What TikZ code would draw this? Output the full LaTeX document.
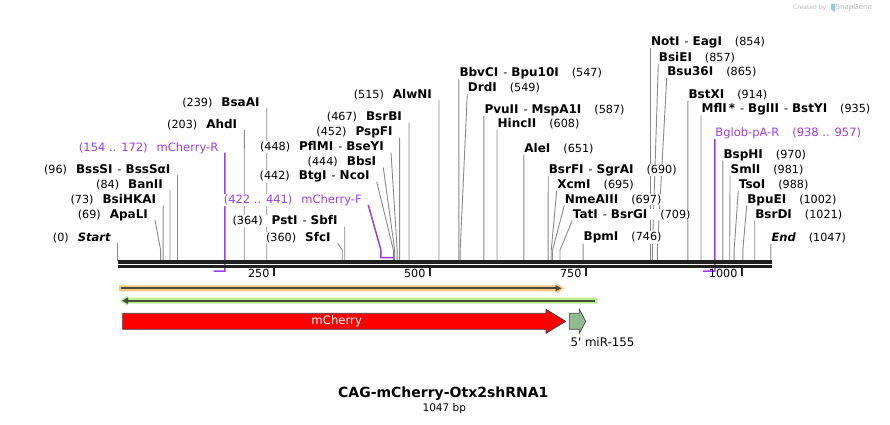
\documentclass[tikz,border=0pt]{standalone}
\usepackage{fontspec}
\setmainfont{DejaVu Sans}
\usetikzlibrary{arrows.meta}
\pgfdeclarelayer{bg}
\pgfdeclarelayer{back}
\pgfsetlayers{back,bg,main}
\definecolor{siteg}{HTML}{8A8A8A}
\definecolor{primer}{HTML}{A23BF0}
\definecolor{bandorange}{HTML}{F9C87F}
\definecolor{bandgreen}{HTML}{B5F08A}
\definecolor{banddark}{HTML}{4A4A42}
\definecolor{mirgreen}{HTML}{8FBC8F}
\definecolor{logogray}{HTML}{B8B8B8}
\definecolor{logoblue}{HTML}{8CCFEA}
\definecolor{barblack}{HTML}{202020}
\newcommand{\bpx}[1]{117.6+0.624*#1}
\newcommand{\EnzB}[1]{{\fontsize{12}{13}\selectfont\bfseries #1}}
\newcommand{\EndB}[1]{{\fontsize{11.5}{13}\selectfont\bfseries\itshape #1}}
\newcommand{\SiteGap}{\hspace{13pt}}
\newcommand{\LGap}{\hspace{9pt}}
\newcommand{\SiteSep}{\hspace{5pt}-\hspace{4pt}}
\newcommand{\Lsite}[5]{%
  \node[lab,anchor=base east] (#1) at (#2-6.5,#3+4) {#5};
  \coordinate (#1k) at ({\bpx{#4}},250);
  \coordinate (#1b) at ({\bpx{#4}},260.5);
  \begin{pgfonlayer}{bg}
    \draw[siteline] ([xshift=6.5pt,yshift=-2pt]#1.base east) -- (#1k) -- (#1b);
  \end{pgfonlayer}}
\newcommand{\Rsite}[5]{%
  \node[lab,anchor=base west] (#1) at (#2,#3+4) {#5};
  \coordinate (#1k) at ({\bpx{#4}},250);
  \coordinate (#1b) at ({\bpx{#4}},260.5);
  \begin{pgfonlayer}{bg}
    \draw[siteline] ([yshift=-2.5pt]#1.base west) -- (#1k) -- (#1b);
  \end{pgfonlayer}}
\tikzset{
  lab/.style={font=\fontsize{11.2}{13}\selectfont, fill=white, inner sep=0.6pt, outer sep=0pt, text=black},
  plab/.style={lab, font=\fontsize{11.5}{13}\selectfont, text=primer},
  siteline/.style={draw=siteg, line width=0.9pt},
  primerline/.style={draw=primer, line width=1.5pt},
  barline/.style={draw=barblack, line width=3.1pt},
  tickline/.style={draw=barblack, line width=2pt},
  ticklab/.style={font=\fontsize{11.2}{13}\selectfont, inner sep=0pt, text=black},
}
\begin{document}
\begin{tikzpicture}[x=1pt,y=-1pt]
\useasboundingbox (0,0) rectangle (890,424);
\begin{pgfonlayer}{back}
\fill[white] (0,0) rectangle (890,424);
\end{pgfonlayer}

% logo
\node[font=\fontsize{6}{7}\selectfont, text=logogray, anchor=west, inner sep=0pt] (logoA) at (793,7.5) {Created by};
\fill[logoblue] (831,3.5) -- (835,3.5) -- (835,12) -- (831,9.5) -- cycle;
\node[font=\fontsize{7}{8}\selectfont, text=logogray, anchor=west, inner sep=0pt] (logoB) at (835.5,7.5) {SnapGene};

% left group
\Lsite{sStart}{117.6}{237}{0}{(0)\LGap\EndB{Start}}
\Lsite{sApaLI}{155}{214}{69}{(69)\LGap\EnzB{ApaLI}}
\Lsite{sBsiHKAI}{163.2}{199}{73}{(73)\LGap\EnzB{BsiHKAI}}
\Lsite{sBanII}{170}{184}{84}{(84)\LGap\EnzB{BanII}}
\Lsite{sBssSI}{177.5}{169}{96}{(96)\LGap\EnzB{BssSI}\SiteSep\EnzB{BssSαI}}
\Lsite{sAhdI}{244.3}{124}{203}{(203)\LGap\EnzB{AhdI}}
\Lsite{sBsaAI}{266.7}{102}{239}{(239)\LGap\EnzB{BsaAI}}
\Lsite{sSfcI}{337.7}{237.3}{360}{(360)\LGap\EnzB{SfcI}}
\Lsite{sPstI}{344.7}{220.7}{364}{(364)\LGap\EnzB{PstI}\SiteSep\EnzB{SbfI}}
\Lsite{sBtgI}{376.7}{175.7}{442}{(442)\LGap\EnzB{BtgI}\SiteSep\EnzB{NcoI}}
\Lsite{sBbsI}{383.3}{161.7}{444}{(444)\LGap\EnzB{BbsI}}
\Lsite{sPflMI}{391}{146.7}{448}{(448)\LGap\EnzB{PflMI}\SiteSep\EnzB{BseYI}}
\Lsite{sPspFI}{399.6}{131.7}{452}{(452)\LGap\EnzB{PspFI}}
\Lsite{sBsrBI}{409}{116.7}{467}{(467)\LGap\EnzB{BsrBI}}
\Lsite{sAlwNI}{439}{94}{515}{(515)\LGap\EnzB{AlwNI}}

% right group
\Rsite{sBbvCI}{458.9}{72.7}{547}{\EnzB{BbvCI}\SiteSep\EnzB{Bpu10I}\SiteGap(547)}
\Rsite{sDrdI}{467.3}{87.3}{549}{\EnzB{DrdI}\SiteGap(549)}
\Rsite{sPvuII}{483.9}{109.3}{587}{\EnzB{PvuII}\SiteSep\EnzB{MspA1I}\SiteGap(587)}
\Rsite{sHincII}{497}{123.3}{608}{\EnzB{HincII}\SiteGap(608)}
\Rsite{sAleI}{523.8}{148.3}{651}{\EnzB{AleI}\SiteGap(651)}
\Rsite{sBsrFI}{548.2}{169}{690}{\EnzB{BsrFI}\SiteSep\EnzB{SgrAI}\SiteGap(690)}
\Rsite{sXcmI}{556.7}{184}{695}{\EnzB{XcmI}\SiteGap(695)}
\Rsite{sNmeAIII}{564.3}{199}{697}{\EnzB{NmeAIII}\SiteGap(697)}
\Rsite{sTatI}{572.3}{214}{709}{\EnzB{TatI}\SiteSep\EnzB{BsrGI}\SiteGap(709)}
\Rsite{sBpmI}{583.1}{236.7}{746}{\EnzB{BpmI}\SiteGap(746)}
\Rsite{sNotI}{650.5}{41.7}{854}{\EnzB{NotI}\SiteSep\EnzB{EagI}\SiteGap(854)}
\Rsite{sBsiEI}{658.3}{57.3}{857}{\EnzB{BsiEI}\SiteGap(857)}
\Rsite{sBsu36I}{666.7}{71.7}{865}{\EnzB{Bsu36I}\SiteGap(865)}
\Rsite{sBstXI}{687.9}{94.3}{914}{\EnzB{BstXI}\SiteGap(914)}
\Rsite{sMflI}{701}{108.3}{935}{\EnzB{MflI\,*}\SiteSep\EnzB{BglII}\SiteSep\EnzB{BstYI}\SiteGap(935)}
\Rsite{sBspHI}{722.9}{154}{970}{\EnzB{BspHI}\SiteGap(970)}
\Rsite{sSmlI}{730}{169}{981}{\EnzB{SmlI}\SiteGap(981)}
\Rsite{sTsoI}{738.3}{184}{988}{\EnzB{TsoI}\SiteGap(988)}
\Rsite{sBpuEI}{746.7}{199}{1002}{\EnzB{BpuEI}\SiteGap(1002)}
\Rsite{sBsrDI}{754.7}{214}{1021}{\EnzB{BsrDI}\SiteGap(1021)}
\Rsite{sEnd}{770.9}{237.3}{1047}{\EndB{End}\SiteGap(1047)}

% primers
\node[plab,anchor=base east] (pR) at (218.9,151.3) {(154 .. 172)\LGap mCherry-R};
\coordinate (pRa) at ({\bpx{172}},271);
\coordinate (pRb) at ({\bpx{154}},271);
\node[plab,anchor=base east] (pF) at (362.3,203) {(422 .. 441)\LGap mCherry-F};
\coordinate (pFa) at ({\bpx{422}},250);
\coordinate (pFb) at ({\bpx{422}},257.7);
\coordinate (pFc) at ({\bpx{441}},257.7);
\node[plab,anchor=base west] (pB) at (714.8,136.3) {Bglob-pA-R\SiteGap(938 .. 957)};
\coordinate (pBa) at ({\bpx{957}},271);
\coordinate (pBb) at ({\bpx{938}},271);
\begin{pgfonlayer}{bg}
  \draw[primerline] ([xshift=6pt,yshift=-1.4pt]pR.base east) -- (pRa) -- (pRb);
  \draw[primerline] ([xshift=6pt,yshift=-2pt]pF.base east) -- (pFa) -- (pFb) -- (pFc);
  \draw[primerline] ([yshift=-2.5pt]pB.base west) -- (pBa) -- (pBb);
\end{pgfonlayer}

% sequence bar
\coordinate (barL) at (117.5,262);
\coordinate (barR) at (772,262);
\draw[barline] (barL) -- (barR);
\draw[barline] ([yshift=-4.8pt]barL) -- ([yshift=-4.8pt]barR);

% ticks
\foreach \v in {250,500,750,1000}{
  \coordinate (tk\v) at ({\bpx{\v}},267.5);
  \draw[tickline] (tk\v) -- ++(0,8);
  \node[ticklab,anchor=base east] (tl\v) at ({\bpx{\v}-4},277.5) {\v};
}

% orange band (forward)
\fill[bandorange] (119,285.3) -- (556.5,285.3) -- (556.5,283) -- (564.5,288.3) -- (556.5,293.6) -- (556.5,291.3) -- (119,291.3) -- cycle;
\draw[banddark, line width=1.7pt, -{Triangle[length=6pt,width=6pt]}] (120.5,288.3) -- (561.5,288.3);
% green band (reverse)
\fill[bandgreen] (597.5,297.7) -- (127.5,297.7) -- (127.5,295.5) -- (120,300.7) -- (127.5,305.9) -- (127.5,303.7) -- (597.5,303.7) -- cycle;
\draw[banddark, line width=1.7pt, -{Triangle[length=6pt,width=6pt]}] (594.5,300.7) -- (122,300.7);

% mCherry feature
\draw[fill=red, draw=black!75, line width=0.7pt] (122.7,313.3) -- (546,313.3) -- (546,309.3) -- (565.7,321.3) -- (546,333.3) -- (546,329.3) -- (122.7,329.3) -- cycle;
\node[font=\fontsize{11.7}{13}\selectfont, text=white, inner sep=0pt] (mch) at (336.7,321.3) {mCherry};
% 5' miR-155 feature
\draw[fill=mirgreen, draw=black!70, line width=0.7pt] (569.3,313.3) -- (579.3,313.3) -- (579.3,309.3) -- (585.7,321.3) -- (579.3,333.3) -- (579.3,329.3) -- (569.3,329.3) -- cycle;
\node[font=\fontsize{11.8}{13}\selectfont, anchor=west, inner sep=0pt] (mir) at (570.3,342.3) {5\textquotesingle{} miR-155};

% title
\node[font=\bfseries\fontsize{14}{16}\selectfont, inner sep=0pt] (title) at (443.3,393.3) {CAG-mCherry-Otx2shRNA1};
\node[font=\fontsize{10.5}{12}\selectfont, inner sep=0pt] (len) at (444.3,408.3) {1047 bp};
\end{tikzpicture}
\end{document}
